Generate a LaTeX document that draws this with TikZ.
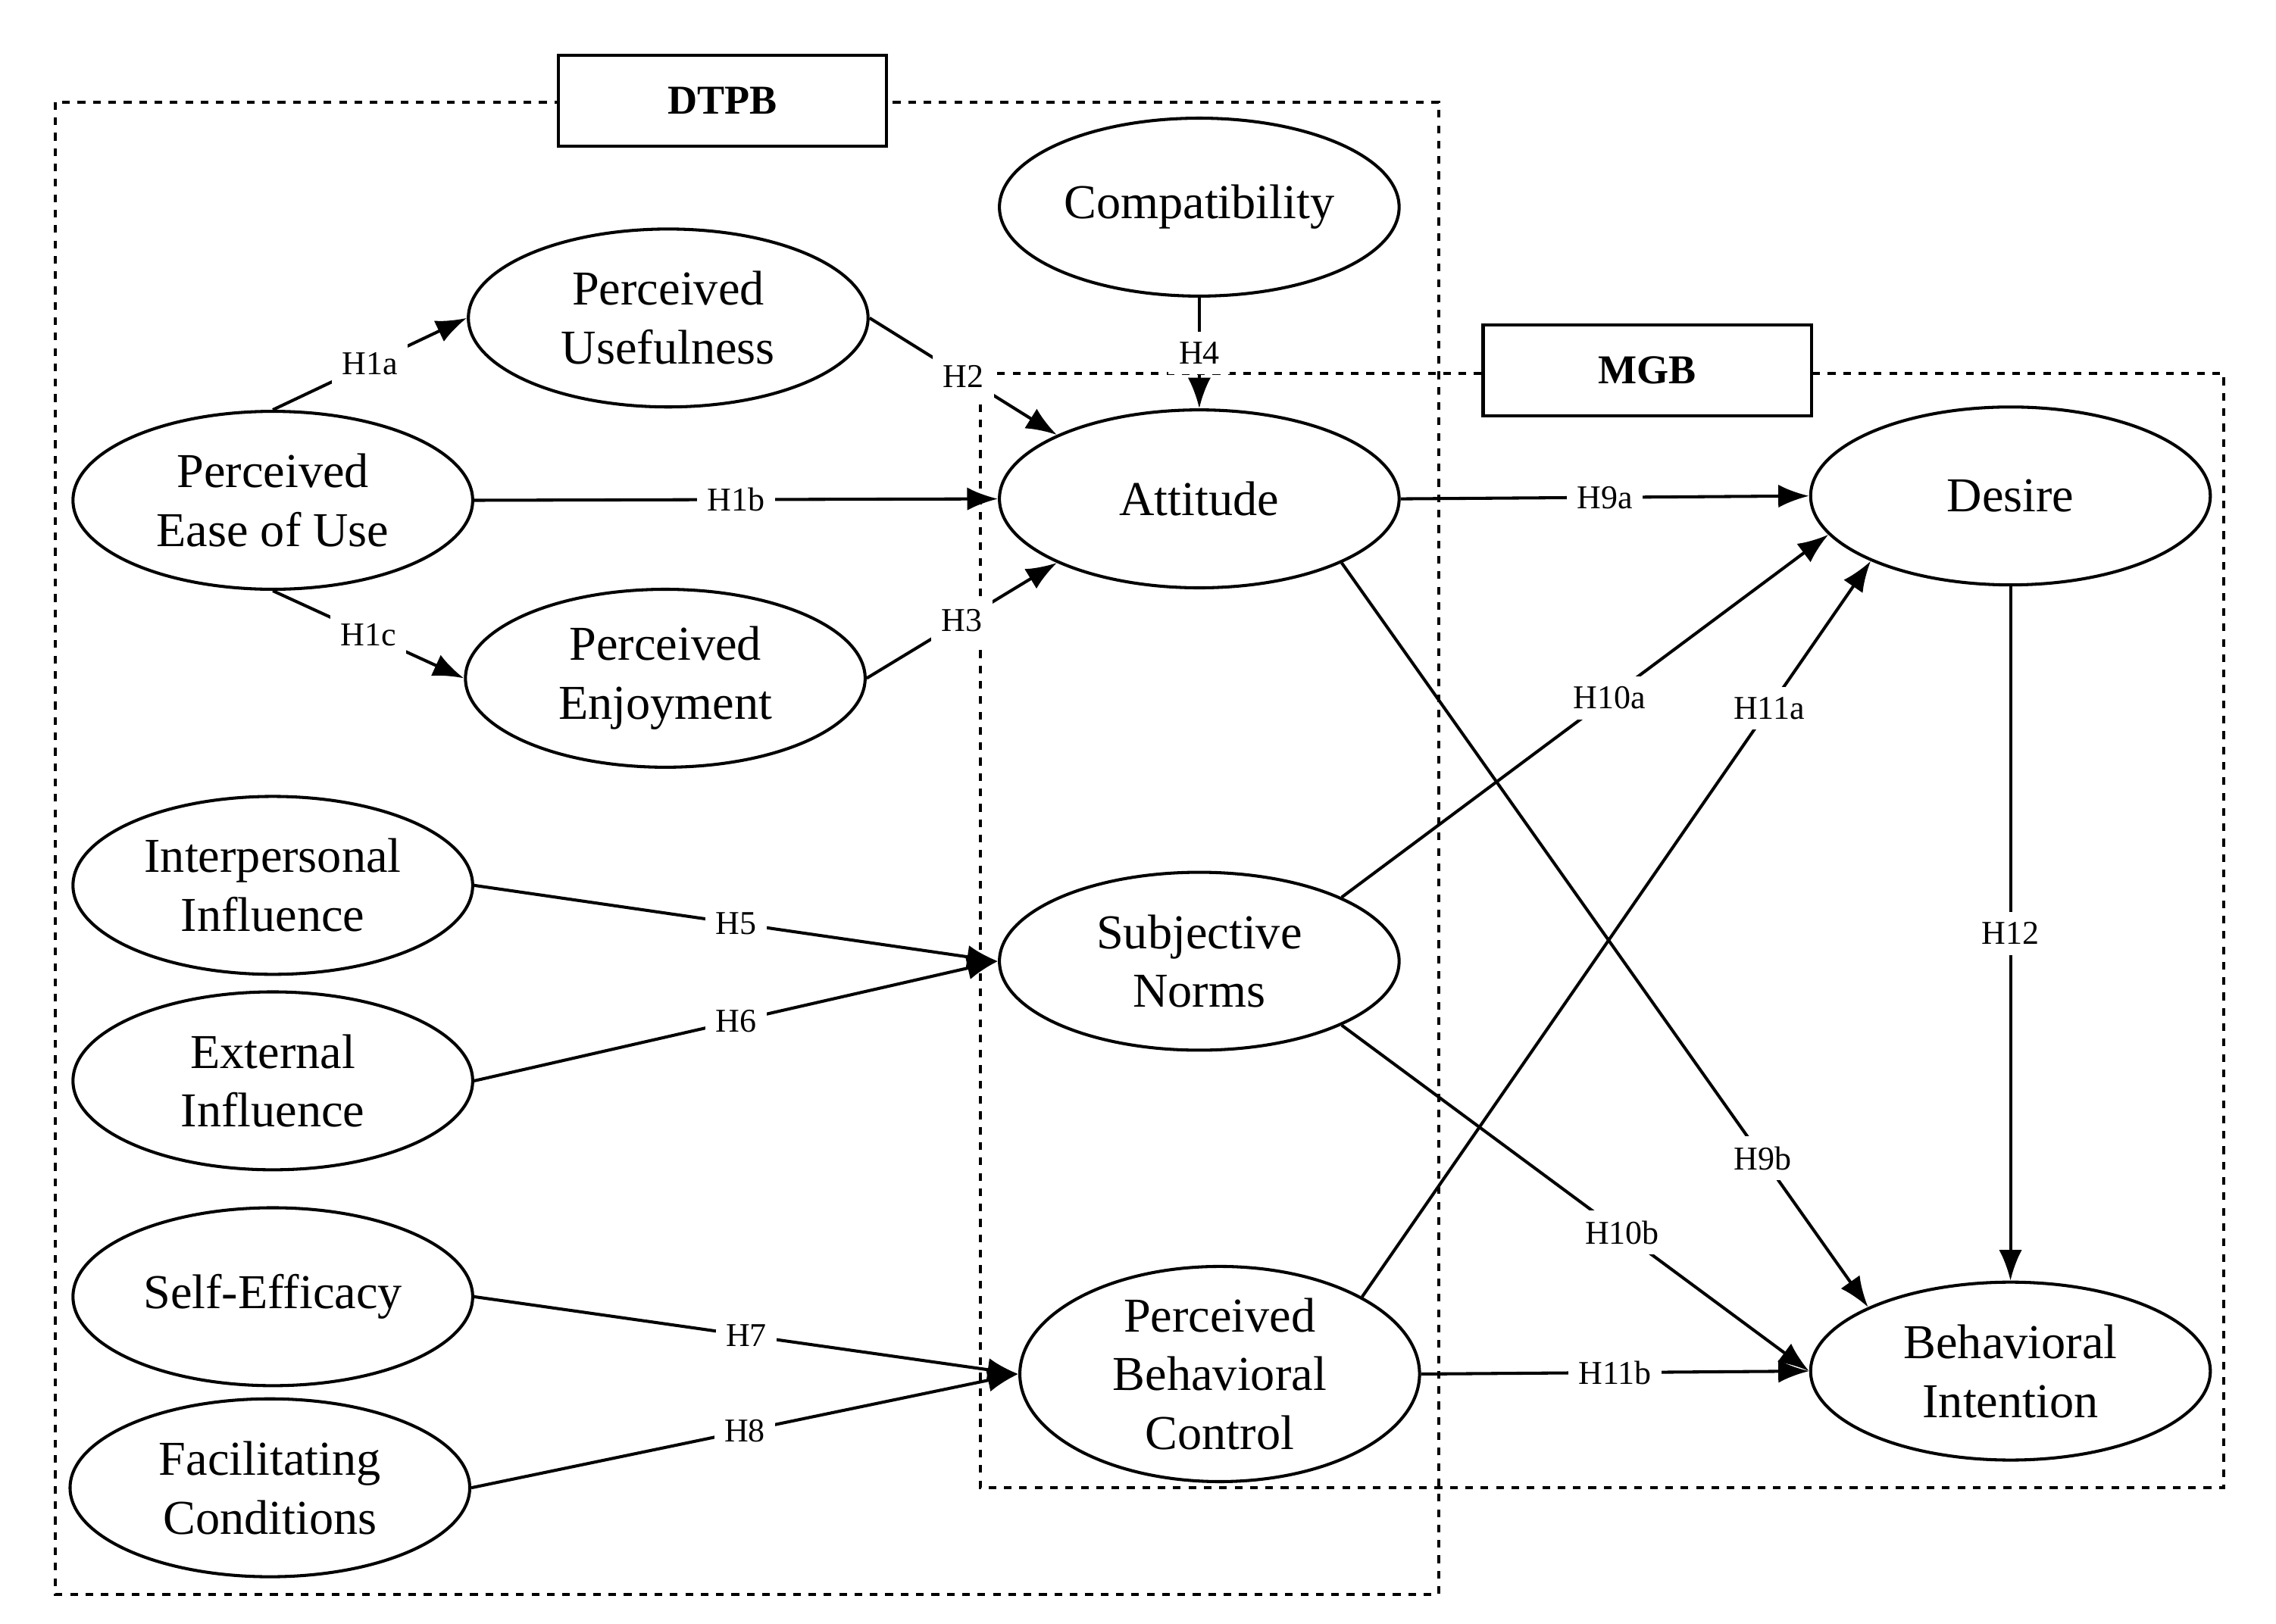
\documentclass[tikz,border=0pt]{standalone}
\usepackage{fontspec}
\setmainfont{Liberation Serif}
\usetikzlibrary{positioning,shapes.geometric,arrows.meta}
\tikzset{
  construct/.style={draw, ellipse, inner sep=0pt, line width=1.2pt, minimum width=5.48cm, minimum height=2.44cm, align=center, font=\fontsize{19}{23}\selectfont},
  hyp/.style={fill=white, inner sep=4pt, font=\fontsize{13}{15}\selectfont},
  path/.style={line width=1.2pt, -{Latex[length=12pt,width=9pt]}},
  frame/.style={draw, dashed, line width=1.2pt},
  tag/.style={draw, fill=white, line width=1.2pt, minimum width=4.5cm, minimum height=1.24cm, font=\fontsize{16}{20}\selectfont\bfseries}
}
\begin{document}
\begin{tikzpicture}[x=0.02cm, y=-0.02cm]
  \useasboundingbox (0,0) rectangle (1560,1113);
  % frames
  \draw[frame] (38,70) rectangle (986,1093);
  \draw[frame] (672,256) rectangle (1524,1020);
  \node[tag] (DTPB) at (495,69) {DTPB};
  \node[tag] (MGB) at (1129,254) {MGB};
  % constructs
  \node[construct] (CO) at (822,142) {Compatibility};
  \node[construct] (PU) at (458,218) {Perceived\\Usefulness};
  \node[construct] (PEOU) at (187,343) {Perceived\\Ease of Use};
  \node[construct] (PE) at (456,465) {Perceived\\Enjoyment};
  \node[construct] (AT) at (822,342) {Attitude};
  \node[construct] (II) at (187,607) {Interpersonal\\Influence};
  \node[construct] (EI) at (187,741) {External\\Influence};
  \node[construct] (SN) at (822,659) {Subjective\\Norms};
  \node[construct] (SE) at (187,889) {Self-Efficacy};
  \node[construct] (FC) at (185,1020) {Facilitating\\Conditions};
  \node[construct] (PBC) at (836,942) {Perceived\\Behavioral\\Control};
  \node[construct] (DE) at (1378,340) {Desire};
  \node[construct] (BI) at (1378,940) {Behavioral\\Intention};
  % hypotheses
  \draw[path] (PEOU.north) -- node[hyp] {H1a} (PU.west);
  \draw[path] (PEOU.east) -- node[hyp] {H1b} (AT.west);
  \draw[path] (PEOU.south) -- node[hyp] {H1c} (PE.west);
  \draw[path] (PU.east) -- node[hyp] {H2} (AT.north west);
  \draw[path] (PE.east) -- node[hyp] {H3} (AT.south west);
  \draw[path] (CO.south) -- node[hyp] {H4} (AT.north);
  \draw[path] (II.east) -- node[hyp] {H5} (SN.west);
  \draw[path] (EI.east) -- node[hyp] {H6} (SN.west);
  \draw[path] (SE.east) -- node[hyp] {H7} (PBC.west);
  \draw[path] (FC.east) -- node[hyp] {H8} (PBC.west);
  \draw[path] (AT.east) -- node[hyp] {H9a} (DE.west);
  \draw[path] (AT.south east) -- node[hyp, pos=0.8] {H9b} (BI.north west);
  \draw[path] (SN.north east) -- node[hyp, pos=0.55] {H10a} (DE.192);
  \draw[path] (SN.south east) -- node[hyp, pos=0.6] {H10b} (BI.west);
  \draw[path] (PBC.north east) -- node[hyp, pos=0.8] {H11a} (DE.205);
  \draw[path] (PBC.east) -- node[hyp] {H11b} (BI.west);
  \draw[path] (DE.south) -- node[hyp] {H12} (BI.north);
\end{tikzpicture}
\end{document}
